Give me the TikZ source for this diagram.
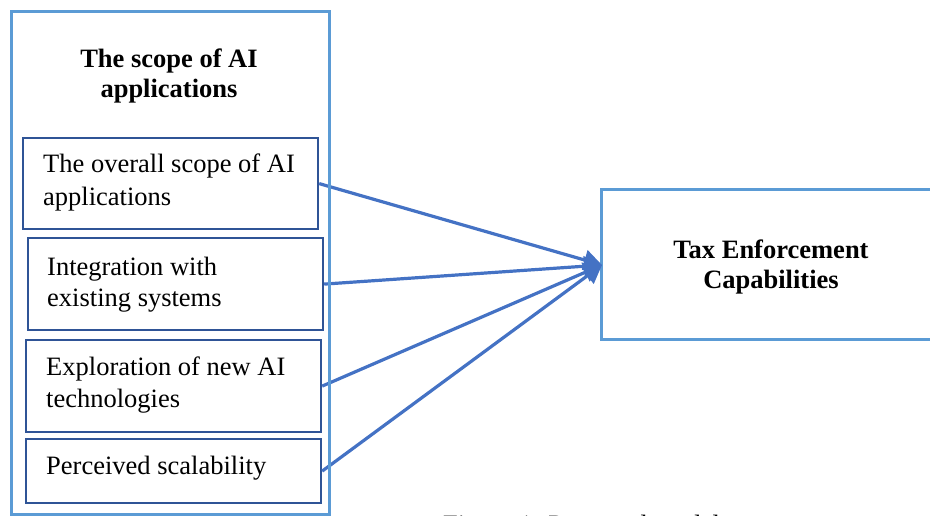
\documentclass[tikz,border=0pt]{standalone}
\usepackage{fontspec}
\setmainfont{Liberation Serif}
\usetikzlibrary{arrows.meta}
\definecolor{lblue}{HTML}{5B9BD5}
\definecolor{dblue}{HTML}{2F5496}
\definecolor{ablue}{HTML}{4472C4}
\begin{document}
\begin{tikzpicture}[x=1pt,y=-1pt,
  outerbox/.style={draw=lblue, line width=3pt, inner sep=0pt, anchor=north west},
  inbox/.style={draw=dblue, line width=2.2pt, inner sep=0pt, anchor=north west, minimum width=295pt},
  lbl/.style={anchor=base west, inner sep=0pt, font=\fontsize{26.5}{33}\selectfont},
  ttl/.style={anchor=base, inner sep=0pt, font=\fontsize{26.5}{33}\selectfont\bfseries},
  arr/.style={draw=ablue, line width=3.2pt, -{Triangle[length=18pt,width=20pt]}}]
\useasboundingbox (0,0) rectangle (930,515);
\clip (0,0) rectangle (930,515);
% right box
\node[outerbox, minimum width=345pt, minimum height=150pt] (tec) at (600,188) {};
\node[ttl] (t1) at (771,258) {Tax Enforcement};
\node[ttl] (t2) at (771,288) {Capabilities};
% inner boxes
\node[inbox, minimum height=91pt] (b1) at (22,137) {};
\node[inbox, minimum height=92pt] (b2) at (27,237) {};
\node[inbox, minimum height=92pt] (b3) at (25,339) {};
\node[inbox, minimum height=64pt] (b4) at (25,438) {};
\node[lbl] (l1a) at (43,172) {The overall scope of AI};
\node[lbl] (l1b) at (43,205) {applications};
\node[lbl] (l2a) at (47,275) {Integration with};
\node[lbl] (l2b) at (47,306) {existing systems};
\node[lbl] (l3a) at (46,375) {Exploration of new AI};
\node[lbl] (l3b) at (46,407) {technologies};
\node[lbl] (l4) at (46,474) {Perceived scalability};
% title
\node[ttl] (h1) at (169,67) {The scope of AI};
\node[ttl] (h2) at (169,97) {applications};
% arrows
\coordinate (tip) at (602,265);
\draw[arr] (b1.east) -- (tip);
\draw[arr] (b2.east) -- (tip);
\draw[arr] (b3.east) -- (tip);
\draw[arr] (b4.east) -- (tip);
% outer box
\node[outerbox, minimum width=318pt, minimum height=503pt] (scope) at (10,10) {};
% caption (cut off at the lower edge, as in the reference)
\node[lbl] (cap) at (443,533) {Figure 1: Proposed model};
\end{tikzpicture}
\end{document}
